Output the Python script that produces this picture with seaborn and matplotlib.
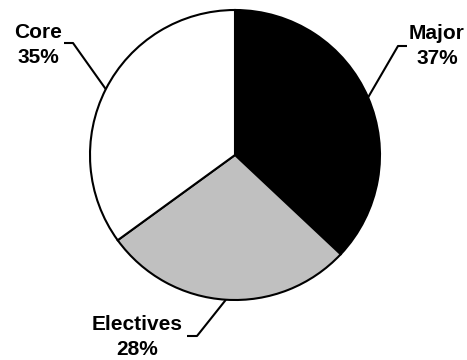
import numpy as np
import matplotlib
matplotlib.use("Agg")
import matplotlib.pyplot as plt
import seaborn as sns

# chart data
categories = ["Major", "Electives", "Core"]
shares = [37, 28, 35]
colors = ["#000000", "#c0c0c0", "#ffffff"]

# label placement (pixel coords, y down) and leader elbow points
label_pos = [(437, 46), (137, 337), (38, 45)]
elbow = [(398, 46), (197, 336), (73, 43)]
elbow_end = [(407, 46), (187, 336), (64, 43)]

sns.set_theme(style="white")
plt.rcParams["font.family"] = ["Liberation Sans", "DejaVu Sans"]

W, H = 467, 360
fig = plt.figure(figsize=(W / 100, H / 100), dpi=100)
ax = fig.add_axes([0, 0, 1, 1])

cx, cy, r = 235, 155, 145
wedges, _ = ax.pie(shares, colors=colors, startangle=90, counterclock=False,
                   center=(cx, H - cy), radius=r,
                   wedgeprops=dict(edgecolor="black", linewidth=1.5))

ax.set_xlim(0, W)
ax.set_ylim(0, H)
ax.set_aspect("equal")
ax.axis("off")

# leader lines from wedge midpoints + labels
for w, name, val, lp, e1, e2 in zip(wedges, categories, shares, label_pos, elbow, elbow_end):
    ang = np.deg2rad((w.theta1 + w.theta2) / 2)
    px = cx + r * np.cos(ang)
    py = (H - cy) + r * np.sin(ang)
    ax.plot([px, e1[0], e2[0]], [py, H - e1[1], H - e2[1]], color="black", lw=1.5,
            solid_capstyle="butt")
    ax.text(lp[0], H - lp[1], f"{name}\n{val}%", ha="center", va="center",
            fontsize=15, fontweight="bold", linespacing=1.4, color="black")

fig.savefig("out.png", dpi=100, facecolor="white")
